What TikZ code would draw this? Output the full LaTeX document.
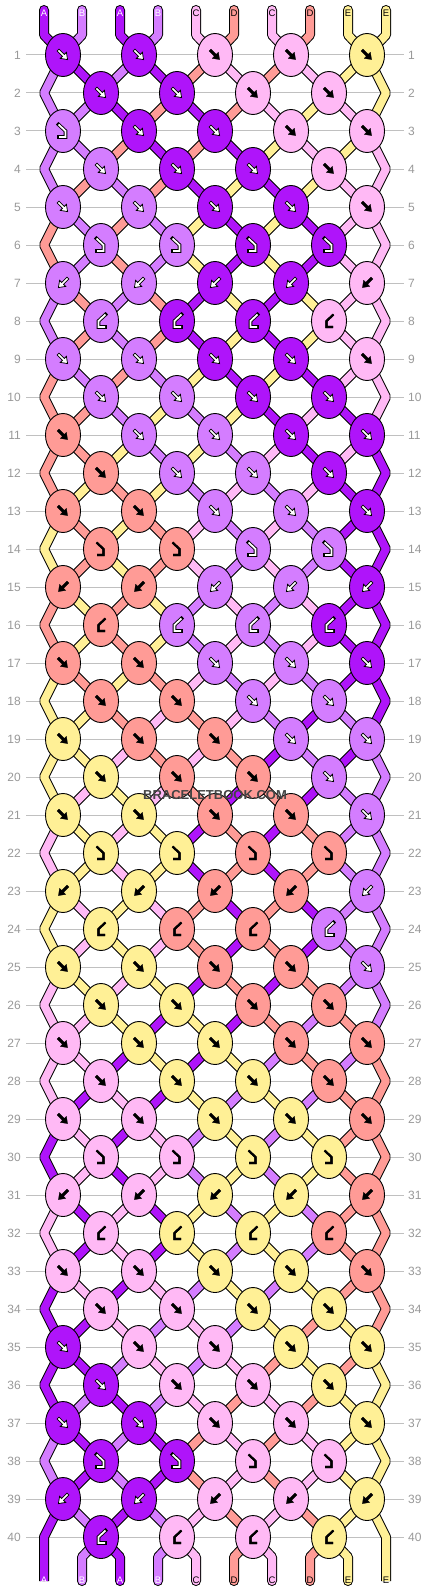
\documentclass[tikz,border=0pt]{standalone}
\usepackage{fontspec}
\setmainfont{Liberation Sans}
\usetikzlibrary{shapes.geometric}
\pgfdeclarelayer{grid}
\pgfdeclarelayer{str}
\pgfsetlayers{grid,str,main}
\definecolor{cA}{RGB}{175,20,250}
\definecolor{cB}{RGB}{212,125,255}
\definecolor{cC}{RGB}{255,185,245}
\definecolor{cD}{RGB}{255,155,150}
\definecolor{cE}{RGB}{255,240,150}
\definecolor{rowgray}{RGB}{153,153,153}
\definecolor{linegray}{RGB}{192,192,192}
\definecolor{wmgray}{RGB}{68,68,68}

\tikzset{
  knot/.style={ellipse, draw=black, line width=0.9pt, minimum width=35pt, minimum height=43pt, inner sep=0pt},
  pA/.style={fill=white, draw=black, line width=0.8pt, line join=miter},
  pB/.style={pA},
  pC/.style={fill=black, draw=black, line width=0.3pt},
  pD/.style={pC}, pE/.style={pC},
  oA/.style={draw=black, line width=3.6pt, line cap=rect},
  iA/.style={draw=white, line width=1.8pt},
  oB/.style={oA}, iB/.style={iA},
  oC/.style={draw=black, line width=2.1pt},
  iC/.style={oC}, oD/.style={oC}, iD/.style={oC}, oE/.style={oC}, iE/.style={oC},
  lab/.style={font=\fontsize{9.5}{9.5}\selectfont, inner sep=0pt},
  labA/.style={text=white}, labB/.style={text=white},
  labC/.style={text=black}, labD/.style={text=black}, labE/.style={text=black},
  rownum/.style={font=\fontsize{12}{12}\selectfont, text=rowgray, inner sep=0pt},
  pics/arF/.style={code={\path[p#1, rotate=-45] (-7,-1.3) -- (0.5,-1.3) -- (0.5,-4.3) -- (6.5,0) -- (0.5,4.3) -- (0.5,1.3) -- (-7,1.3) -- cycle;}},
  pics/arB/.style={code={\path[p#1, rotate=-135] (-7,-1.3) -- (0.5,-1.3) -- (0.5,-4.3) -- (6.5,0) -- (0.5,4.3) -- (0.5,1.3) -- (-7,1.3) -- cycle;}},
  pics/arFB/.style={code={\path[o#1, line join=miter] (-4.5,-6.5) -- (2.5,0) -- (2.5,6) -- (-4,6);
     \path[i#1, line join=miter] (-4.5,-6.5) -- (2.5,0) -- (2.5,6) -- (-4,6);}},
  pics/arBF/.style={code={\path[o#1, line join=miter] (4.5,-6.5) -- (-2.5,0) -- (-2.5,6) -- (4,6);
     \path[i#1, line join=miter] (4.5,-6.5) -- (-2.5,0) -- (-2.5,6) -- (4,6);}},
}

\newcommand\stringpass[1]{%
  \foreach \c [count=\p from 0] in {A,B,A,B,C,D,C,D,E,E} {
    \pgfmathtruncatemacro\ca{\p-mod(\p,2)}
    \pgfmathtruncatemacro\cb{\p-1+mod(\p,2)}
    \draw[#1, line cap=round, line join=bevel] (top-\p) -- (topb-\p) -- (k-1-\ca.center);
    \ifnum\p>0 \ifnum\p<9
      \draw[#1, line cap=round, line join=bevel] (k-40-\cb.center) -- (botb-\p) -- (bot-\p);
    \fi\fi
  }
  \foreach \r/\st in {
    1/{B,A,B,A,D,C,D,C,E,E},
    2/{B,B,A,D,A,D,C,E,C,E},
    3/{B,B,D,A,D,A,E,C,E,C},
    4/{B,D,B,D,A,E,A,E,C,C},
    5/{D,B,D,B,E,A,E,A,C,C},
    6/{D,B,D,B,E,A,E,A,C,C},
    7/{B,D,B,D,A,E,A,E,C,C},
    8/{B,D,B,D,A,E,A,E,C,C},
    9/{D,B,D,B,E,A,E,A,C,C},
    10/{D,D,B,E,B,E,A,C,A,C},
    11/{D,D,E,B,E,B,C,A,C,A},
    12/{D,E,D,E,B,C,B,C,A,A},
    13/{E,D,E,D,C,B,C,B,A,A},
    14/{E,D,E,D,C,B,C,B,A,A},
    15/{D,E,D,E,B,C,B,C,A,A},
    16/{D,E,D,E,B,C,B,C,A,A},
    17/{E,D,E,D,C,B,C,B,A,A},
    18/{E,E,D,C,D,C,B,A,B,A},
    19/{E,E,C,D,C,D,A,B,A,B},
    20/{E,C,E,C,D,A,D,A,B,B},
    21/{C,E,C,E,A,D,A,D,B,B},
    22/{C,E,C,E,A,D,A,D,B,B},
    23/{E,C,E,C,D,A,D,A,B,B},
    24/{E,C,E,C,D,A,D,A,B,B},
    25/{C,E,C,E,A,D,A,D,B,B},
    26/{C,C,E,A,E,A,D,B,D,B},
    27/{C,C,A,E,A,E,B,D,B,D},
    28/{C,A,C,A,E,B,E,B,D,D},
    29/{A,C,A,C,B,E,B,E,D,D},
    30/{A,C,A,C,B,E,B,E,D,D},
    31/{C,A,C,A,E,B,E,B,D,D},
    32/{C,A,C,A,E,B,E,B,D,D},
    33/{A,C,A,C,B,E,B,E,D,D},
    34/{A,A,C,B,C,B,E,D,E,D},
    35/{A,A,B,C,B,C,D,E,D,E},
    36/{A,B,A,B,C,D,C,D,E,E},
    37/{B,A,B,A,D,C,D,C,E,E},
    38/{B,A,B,A,D,C,D,C,E,E},
    39/{A,B,A,B,C,D,C,D,E,E}} {
    \pgfmathtruncatemacro\rn{\r+1}
    \pgfmathtruncatemacro\rnn{\r+2}
    \pgfmathtruncatemacro\rp{mod(\r,2)}
    \foreach \c [count=\p from 0] in \st {
      \ifnum\p=0
        \ifnum\rp=1
          \ifnum\r<39
            \draw[#1, line join=bevel] (k-\r-0.center) -- (eL-\rn) -- (k-\rnn-0.center);
          \else
            \draw[#1, line join=bevel] (k-\r-0.center) -- (eL-\rn) -- (bot-0);
          \fi
        \fi
      \else\ifnum\p=9
        \ifnum\rp=1
          \ifnum\r<39
            \draw[#1, line join=bevel] (k-\r-8.center) -- (eR-\rn) -- (k-\rnn-8.center);
          \else
            \draw[#1, line join=bevel] (k-\r-8.center) -- (eR-\rn) -- (bot-9);
          \fi
        \fi
      \else
        \pgfmathtruncatemacro\ca{\rp==1 ? \p-mod(\p,2) : \p-1+mod(\p,2)}
        \pgfmathtruncatemacro\cb{\rp==1 ? \p-1+mod(\p,2) : \p-mod(\p,2)}
        \draw[#1] (k-\r-\ca.center) -- (k-\rn-\cb.center);
      \fi\fi
    }
  }%
}

\begin{document}
\begin{tikzpicture}[x=1pt,y=-1pt]
\begin{pgfonlayer}{grid}
  \fill[white] (0,0) rectangle (430,1592);
\end{pgfonlayer}
\useasboundingbox (0,0) rectangle (430,1592);

% row guide lines and numbers
\foreach \r in {1,...,40} {
  \node[rownum, anchor=east] (nl-\r) at (21,{55+38*(\r-1)}) {\r};
  \node[rownum, anchor=west] (nr-\r) at (408,{55+38*(\r-1)}) {\r};
  \begin{pgfonlayer}{grid}
    \draw[linegray, line width=1pt] ([xshift=5pt]nl-\r.east) -- ([xshift=-4pt]nr-\r.west |- nl-\r.east);
  \end{pgfonlayer}
}

% coordinates for string ends and edge turns
\foreach \p in {0,...,9} {
  \coordinate (top-\p) at ({44+38*\p},10);
  \coordinate (topb-\p) at ({44+38*\p},35);
  \coordinate (botb-\p) at ({44+38*\p},1557);
  \coordinate (bot-\p) at ({44+38*\p},1581);
}
\foreach \r in {2,4,...,40} {
  \coordinate (eL-\r) at (44,{55+38*(\r-1)});
  \coordinate (eR-\r) at (386,{55+38*(\r-1)});
}

% knots
\foreach \r/\typ/\cols in {
  1/F/{A,A,C,C,E}, 2/F/{A,A,C,C}, 3/FB/{B,A,A,C,C}, 4/F/{B,A,A,C},
  5/F/{B,B,A,A,C}, 6/FB/{B,B,A,A}, 7/B/{B,B,A,A,C}, 8/BF/{B,A,A,C},
  9/F/{B,B,A,A,C}, 10/F/{B,B,A,A}, 11/F/{D,B,B,A,A}, 12/F/{D,B,B,A},
  13/F/{D,D,B,B,A}, 14/FB/{D,D,B,B}, 15/B/{D,D,B,B,A}, 16/BF/{D,B,B,A},
  17/F/{D,D,B,B,A}, 18/F/{D,D,B,B}, 19/F/{E,D,D,B,B}, 20/F/{E,D,D,B},
  21/F/{E,E,D,D,B}, 22/FB/{E,E,D,D}, 23/B/{E,E,D,D,B}, 24/BF/{E,D,D,B},
  25/F/{E,E,D,D,B}, 26/F/{E,E,D,D}, 27/F/{C,E,E,D,D}, 28/F/{C,E,E,D},
  29/F/{C,C,E,E,D}, 30/FB/{C,C,E,E}, 31/B/{C,C,E,E,D}, 32/BF/{C,E,E,D},
  33/F/{C,C,E,E,D}, 34/F/{C,C,E,E}, 35/F/{A,C,C,E,E}, 36/F/{A,C,C,E},
  37/F/{A,A,C,C,E}, 38/FB/{A,A,C,C}, 39/B/{A,A,C,C,E}, 40/BF/{A,C,C,E}} {
  \pgfmathtruncatemacro\rp{mod(\r,2)}
  \foreach \k [count=\i from 0] in \cols {
    \pgfmathtruncatemacro\cc{2*\i+1-\rp}
    \node[knot, fill=c\k] (k-\r-\cc) at ({63+38*\cc},{55+38*(\r-1)}) {};
    \def\t{\typ}
    \ifnum\r=3 \ifnum\i>0 \def\t{F}\fi\fi
    \pic at (k-\r-\cc.center) {ar\t=\k};
  }
}

% strings
\begin{pgfonlayer}{str}
  \stringpass{line width=10pt, draw=black}
  \stringpass{line width=8pt, draw=c\c}
\end{pgfonlayer}

% string labels
\foreach \c [count=\p from 0] in {A,B,A,B,C,D,C,D,E,E} {
  \node[lab, lab\c] (tl-\p) at (top-\p |- 0,13) {\c};
  \node[lab, lab\c] (bl-\p) at (bot-\p |- 0,1580) {\c};
}

\node[font=\bfseries\fontsize{13}{13}\selectfont, text=wmgray, inner sep=0pt] (wm) at (215,795) {BRACELETBOOK.COM};
\end{tikzpicture}
\end{document}
